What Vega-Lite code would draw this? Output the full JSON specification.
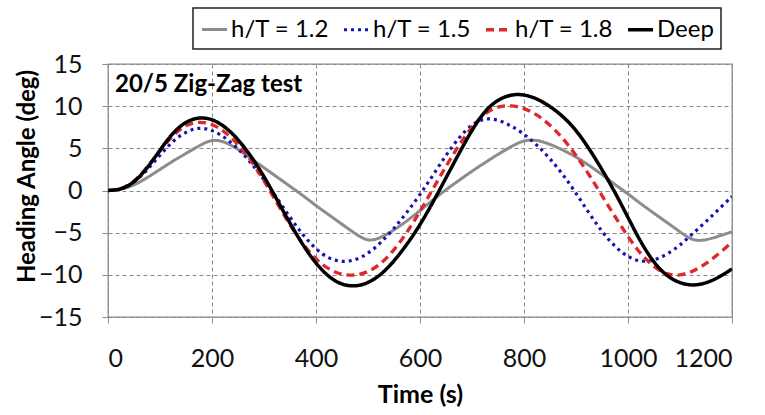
{
  "$schema": "https://vega.github.io/schema/vega-lite/v6.json",
  "width": 624,
  "height": 253,
  "autosize": {"type": "none"},
  "padding": {"left": 108, "top": 64, "right": 33, "bottom": 98},
  "background": "white",
  "config": {
    "view": {"stroke": "#8a8a8a", "strokeWidth": 1.3},
    "font": "Lato",
    "axis": {
      "domain": false,
      "grid": true,
      "gridColor": "#8a8a8a",
      "gridDash": [4, 3],
      "gridWidth": 1,
      "tickColor": "#8a8a8a",
      "tickSize": 6,
      "labelFont": "Lato",
      "labelFontSize": 25,
      "labelColor": "#111",
      "titleFont": "Lato",
      "titleFontSize": 25,
      "titleFontWeight": "bold",
      "titleColor": "#000"
    },
    "legend": {
      "orient": "none",
      "legendX": 85,
      "legendY": -56,
      "direction": "horizontal",
      "columns": 4,
      "strokeColor": "#222",
      "strokeWidth": 1.5,
      "padding": 7,
      "labelFont": "Lato",
      "labelFontSize": 24,
      "labelColor": "#000",
      "symbolType": "stroke",
      "symbolSize": 625,
      "columnPadding": 7,
      "labelOffset": 2
    }
  },
  "data": {
    "values": [
      {"t":0,"s":"h/T = 1.2","v":0},{"t":25,"s":"h/T = 1.2","v":0.1},{"t":50,"s":"h/T = 1.2","v":0.6},{"t":75,"s":"h/T = 1.2","v":1.5},{"t":100,"s":"h/T = 1.2","v":2.5},{"t":125,"s":"h/T = 1.2","v":3.5},{"t":150,"s":"h/T = 1.2","v":4.4},{"t":175,"s":"h/T = 1.2","v":5.3},{"t":200,"s":"h/T = 1.2","v":6.1},{"t":225,"s":"h/T = 1.2","v":5.8},{"t":250,"s":"h/T = 1.2","v":4.9},{"t":275,"s":"h/T = 1.2","v":3.8},{"t":300,"s":"h/T = 1.2","v":2.7},{"t":325,"s":"h/T = 1.2","v":1.6},{"t":350,"s":"h/T = 1.2","v":0.5},{"t":375,"s":"h/T = 1.2","v":-0.6},{"t":400,"s":"h/T = 1.2","v":-1.8},{"t":425,"s":"h/T = 1.2","v":-2.9},{"t":450,"s":"h/T = 1.2","v":-4.0},{"t":475,"s":"h/T = 1.2","v":-5.1},{"t":500,"s":"h/T = 1.2","v":-6.1},{"t":525,"s":"h/T = 1.2","v":-5.6},{"t":550,"s":"h/T = 1.2","v":-4.7},{"t":575,"s":"h/T = 1.2","v":-3.6},{"t":600,"s":"h/T = 1.2","v":-2.4},{"t":625,"s":"h/T = 1.2","v":-1.1},{"t":650,"s":"h/T = 1.2","v":0.1},{"t":675,"s":"h/T = 1.2","v":1.2},{"t":700,"s":"h/T = 1.2","v":2.3},{"t":725,"s":"h/T = 1.2","v":3.3},{"t":750,"s":"h/T = 1.2","v":4.3},{"t":775,"s":"h/T = 1.2","v":5.2},{"t":800,"s":"h/T = 1.2","v":6.0},{"t":825,"s":"h/T = 1.2","v":6.0},{"t":850,"s":"h/T = 1.2","v":5.5},{"t":875,"s":"h/T = 1.2","v":4.8},{"t":900,"s":"h/T = 1.2","v":4.0},{"t":925,"s":"h/T = 1.2","v":3.0},{"t":950,"s":"h/T = 1.2","v":1.9},{"t":975,"s":"h/T = 1.2","v":0.7},{"t":1000,"s":"h/T = 1.2","v":-0.4},{"t":1025,"s":"h/T = 1.2","v":-1.6},{"t":1050,"s":"h/T = 1.2","v":-2.7},{"t":1075,"s":"h/T = 1.2","v":-3.8},{"t":1100,"s":"h/T = 1.2","v":-4.9},{"t":1125,"s":"h/T = 1.2","v":-6.0},{"t":1150,"s":"h/T = 1.2","v":-5.9},{"t":1175,"s":"h/T = 1.2","v":-5.4},{"t":1200,"s":"h/T = 1.2","v":-4.9},
      {"t":0,"s":"h/T = 1.5","v":0},{"t":25,"s":"h/T = 1.5","v":0.1},{"t":50,"s":"h/T = 1.5","v":0.9},{"t":75,"s":"h/T = 1.5","v":2.4},{"t":100,"s":"h/T = 1.5","v":4.2},{"t":125,"s":"h/T = 1.5","v":5.9},{"t":150,"s":"h/T = 1.5","v":7.0},{"t":175,"s":"h/T = 1.5","v":7.5},{"t":200,"s":"h/T = 1.5","v":7.2},{"t":225,"s":"h/T = 1.5","v":6.3},{"t":250,"s":"h/T = 1.5","v":5.0},{"t":275,"s":"h/T = 1.5","v":3.3},{"t":300,"s":"h/T = 1.5","v":1.3},{"t":325,"s":"h/T = 1.5","v":-0.9},{"t":350,"s":"h/T = 1.5","v":-3.2},{"t":375,"s":"h/T = 1.5","v":-5.3},{"t":400,"s":"h/T = 1.5","v":-7.0},{"t":425,"s":"h/T = 1.5","v":-8.1},{"t":450,"s":"h/T = 1.5","v":-8.5},{"t":475,"s":"h/T = 1.5","v":-8.3},{"t":500,"s":"h/T = 1.5","v":-7.5},{"t":525,"s":"h/T = 1.5","v":-6.2},{"t":550,"s":"h/T = 1.5","v":-4.5},{"t":575,"s":"h/T = 1.5","v":-2.6},{"t":600,"s":"h/T = 1.5","v":-0.5},{"t":625,"s":"h/T = 1.5","v":1.8},{"t":650,"s":"h/T = 1.5","v":4.2},{"t":675,"s":"h/T = 1.5","v":6.3},{"t":700,"s":"h/T = 1.5","v":7.9},{"t":725,"s":"h/T = 1.5","v":8.6},{"t":750,"s":"h/T = 1.5","v":8.4},{"t":775,"s":"h/T = 1.5","v":7.7},{"t":800,"s":"h/T = 1.5","v":6.7},{"t":825,"s":"h/T = 1.5","v":5.4},{"t":850,"s":"h/T = 1.5","v":3.8},{"t":875,"s":"h/T = 1.5","v":1.9},{"t":900,"s":"h/T = 1.5","v":-0.3},{"t":925,"s":"h/T = 1.5","v":-2.7},{"t":950,"s":"h/T = 1.5","v":-4.9},{"t":975,"s":"h/T = 1.5","v":-6.7},{"t":1000,"s":"h/T = 1.5","v":-7.9},{"t":1025,"s":"h/T = 1.5","v":-8.5},{"t":1050,"s":"h/T = 1.5","v":-8.3},{"t":1075,"s":"h/T = 1.5","v":-7.6},{"t":1100,"s":"h/T = 1.5","v":-6.5},{"t":1125,"s":"h/T = 1.5","v":-5.1},{"t":1150,"s":"h/T = 1.5","v":-3.7},{"t":1175,"s":"h/T = 1.5","v":-2.2},{"t":1200,"s":"h/T = 1.5","v":-0.7},
      {"t":0,"s":"h/T = 1.8","v":0},{"t":25,"s":"h/T = 1.8","v":0.1},{"t":50,"s":"h/T = 1.8","v":1.0},{"t":75,"s":"h/T = 1.8","v":2.7},{"t":100,"s":"h/T = 1.8","v":4.7},{"t":125,"s":"h/T = 1.8","v":6.6},{"t":150,"s":"h/T = 1.8","v":7.8},{"t":175,"s":"h/T = 1.8","v":8.2},{"t":200,"s":"h/T = 1.8","v":7.9},{"t":225,"s":"h/T = 1.8","v":7.0},{"t":250,"s":"h/T = 1.8","v":5.5},{"t":275,"s":"h/T = 1.8","v":3.6},{"t":300,"s":"h/T = 1.8","v":1.2},{"t":325,"s":"h/T = 1.8","v":-1.5},{"t":350,"s":"h/T = 1.8","v":-4.1},{"t":375,"s":"h/T = 1.8","v":-6.4},{"t":400,"s":"h/T = 1.8","v":-8.2},{"t":425,"s":"h/T = 1.8","v":-9.4},{"t":450,"s":"h/T = 1.8","v":-10.0},{"t":475,"s":"h/T = 1.8","v":-10.1},{"t":500,"s":"h/T = 1.8","v":-9.7},{"t":525,"s":"h/T = 1.8","v":-8.7},{"t":550,"s":"h/T = 1.8","v":-7.1},{"t":575,"s":"h/T = 1.8","v":-5.0},{"t":600,"s":"h/T = 1.8","v":-2.5},{"t":625,"s":"h/T = 1.8","v":0.2},{"t":650,"s":"h/T = 1.8","v":2.9},{"t":675,"s":"h/T = 1.8","v":5.4},{"t":700,"s":"h/T = 1.8","v":7.6},{"t":725,"s":"h/T = 1.8","v":9.2},{"t":750,"s":"h/T = 1.8","v":10.0},{"t":775,"s":"h/T = 1.8","v":10.1},{"t":800,"s":"h/T = 1.8","v":9.8},{"t":825,"s":"h/T = 1.8","v":9.0},{"t":850,"s":"h/T = 1.8","v":7.8},{"t":875,"s":"h/T = 1.8","v":6.2},{"t":900,"s":"h/T = 1.8","v":4.2},{"t":925,"s":"h/T = 1.8","v":1.9},{"t":950,"s":"h/T = 1.8","v":-0.6},{"t":975,"s":"h/T = 1.8","v":-3.1},{"t":1000,"s":"h/T = 1.8","v":-5.5},{"t":1025,"s":"h/T = 1.8","v":-7.6},{"t":1050,"s":"h/T = 1.8","v":-9.1},{"t":1075,"s":"h/T = 1.8","v":-10.0},{"t":1100,"s":"h/T = 1.8","v":-10.1},{"t":1125,"s":"h/T = 1.8","v":-9.6},{"t":1150,"s":"h/T = 1.8","v":-8.7},{"t":1175,"s":"h/T = 1.8","v":-7.5},{"t":1200,"s":"h/T = 1.8","v":-6.1},
      {"t":0,"s":"Deep","v":0},{"t":25,"s":"Deep","v":0.1},{"t":50,"s":"Deep","v":0.9},{"t":75,"s":"Deep","v":2.6},{"t":100,"s":"Deep","v":4.8},{"t":125,"s":"Deep","v":6.9},{"t":150,"s":"Deep","v":8.2},{"t":175,"s":"Deep","v":8.7},{"t":200,"s":"Deep","v":8.5},{"t":225,"s":"Deep","v":7.6},{"t":250,"s":"Deep","v":6.1},{"t":275,"s":"Deep","v":4.1},{"t":300,"s":"Deep","v":1.7},{"t":325,"s":"Deep","v":-1.1},{"t":350,"s":"Deep","v":-3.9},{"t":375,"s":"Deep","v":-6.5},{"t":400,"s":"Deep","v":-8.7},{"t":425,"s":"Deep","v":-10.3},{"t":450,"s":"Deep","v":-11.2},{"t":475,"s":"Deep","v":-11.4},{"t":500,"s":"Deep","v":-11.0},{"t":525,"s":"Deep","v":-10.0},{"t":550,"s":"Deep","v":-8.4},{"t":575,"s":"Deep","v":-6.4},{"t":600,"s":"Deep","v":-4.1},{"t":625,"s":"Deep","v":-1.4},{"t":650,"s":"Deep","v":1.5},{"t":675,"s":"Deep","v":4.4},{"t":700,"s":"Deep","v":7.2},{"t":725,"s":"Deep","v":9.5},{"t":750,"s":"Deep","v":10.8},{"t":775,"s":"Deep","v":11.4},{"t":800,"s":"Deep","v":11.4},{"t":825,"s":"Deep","v":10.9},{"t":850,"s":"Deep","v":10.0},{"t":875,"s":"Deep","v":8.8},{"t":900,"s":"Deep","v":7.2},{"t":925,"s":"Deep","v":5.0},{"t":950,"s":"Deep","v":2.5},{"t":975,"s":"Deep","v":-0.2},{"t":1000,"s":"Deep","v":-3.2},{"t":1025,"s":"Deep","v":-6.2},{"t":1050,"s":"Deep","v":-8.6},{"t":1075,"s":"Deep","v":-10.2},{"t":1100,"s":"Deep","v":-11.0},{"t":1125,"s":"Deep","v":-11.3},{"t":1150,"s":"Deep","v":-11.0},{"t":1175,"s":"Deep","v":-10.3},{"t":1200,"s":"Deep","v":-9.3}
    ]
  },
  "layer": [
    {
      "mark": {"type": "line", "interpolate": "basis", "clip": true},
      "encoding": {
        "x": {
          "field": "t", "type": "quantitative", "title": "Time (s)",
          "scale": {"domain": [0, 1200], "nice": false},
          "axis": {"values": [0, 200, 400, 600, 800, 1000, 1200], "format": "d", "labelPadding": 43, "labelBaseline": "alphabetic", "titleBaseline": "alphabetic", "titleY": 85}
        },
        "y": {
          "field": "v", "type": "quantitative", "title": "Heading Angle (deg)",
          "scale": {"domain": [-15, 15], "nice": false},
          "axis": {"values": [-15, -10, -5, 0, 5, 10, 15], "format": "d", "labelPadding": 20, "titleBaseline": "alphabetic", "titleX": -74, "titleY": 112, "titleFontSize": 24}
        },
        "color": {
          "field": "s", "type": "nominal", "title": null,
          "sort": ["h/T = 1.2", "h/T = 1.5", "h/T = 1.8", "Deep"],
          "scale": {"domain": ["h/T = 1.2", "h/T = 1.5", "h/T = 1.8", "Deep"], "range": ["#8c8c8c", "#1414b4", "#e0282a", "#000000"]}
        },
        "strokeDash": {
          "field": "s", "type": "nominal", "title": null,
          "sort": ["h/T = 1.2", "h/T = 1.5", "h/T = 1.8", "Deep"],
          "scale": {"domain": ["h/T = 1.2", "h/T = 1.5", "h/T = 1.8", "Deep"], "range": [[1, 0], [3, 4], [8, 5], [1, 0]]}
        },
        "strokeWidth": {
          "field": "s", "type": "nominal", "title": null,
          "sort": ["h/T = 1.2", "h/T = 1.5", "h/T = 1.8", "Deep"],
          "scale": {"domain": ["h/T = 1.2", "h/T = 1.5", "h/T = 1.8", "Deep"], "range": [3, 3.5, 2.6, 2.1]}
        },
        "order": {"field": "t", "type": "quantitative"}
      }
    },
    {
      "data": {"values": [{"label": "20/5 Zig-Zag test"}]},
      "mark": {"type": "text", "align": "left", "baseline": "alphabetic", "dx": 7, "dy": 28, "font": "Lato", "fontSize": 24, "fontWeight": "bold", "color": "#000"},
      "encoding": {
        "x": {"datum": 0, "type": "quantitative"},
        "y": {"datum": 15, "type": "quantitative"},
        "text": {"field": "label"}
      }
    }
  ]
}
